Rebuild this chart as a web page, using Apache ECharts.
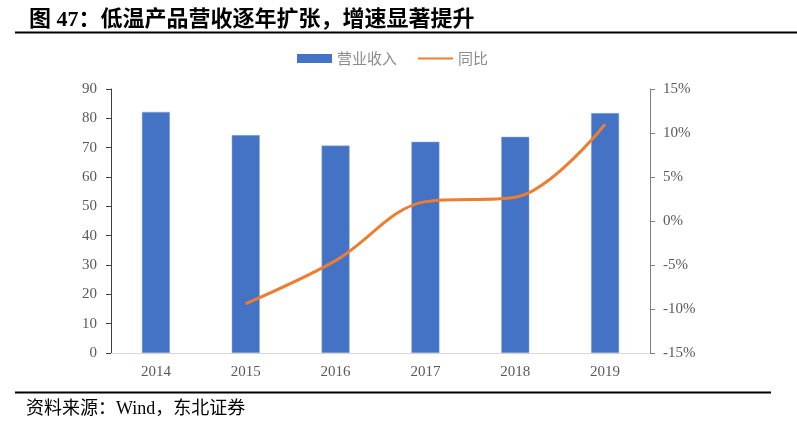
<!DOCTYPE html>
<html><head><meta charset="utf-8">
<script src="https://cdn.jsdelivr.net/npm/echarts@6/dist/echarts.min.js"></script>
<style>html,body{margin:0;padding:0;background:#fff}#c{width:797px;height:435px}</style>
</head><body><div id="c"></div>
<script>
var categories = ['2014','2015','2016','2017','2018','2019'];
var revenue = [82.2, 74.3, 70.7, 72.0, 73.7, 81.8];
var yoy = [null, -9.4, -4.5, 2.2, 2.7, 11.0];
var leftTicks = {min: 0, max: 90, interval: 10};
var rightTicks = {min: -15, max: 15, interval: 5};

var serif = '"Liberation Serif","Noto Sans CJK SC",serif';
var chart = echarts.init(document.getElementById('c'));
chart.setOption({
  animation: false,
  title: {
    text: '图 47：低温产品营收逐年扩张，增速显著提升',
    left: 24, top: 4,
    textStyle: {fontFamily: serif, fontWeight: 'bold', fontSize: 22, color: '#000'}
  },
  graphic: [
    {type: 'rect', shape: {x: 15, y: 31.5, width: 782, height: 2}, style: {fill: '#000'}},
    {type: 'rect', shape: {x: 15, y: 391.5, width: 756, height: 2}, style: {fill: '#000'}},
    {type: 'text', left: 26, top: 400, style: {text: '资料来源：Wind，东北证券', font: '18px ' + serif, fill: '#000'}}
  ],
  legend: {
    left: 292, top: 46,
    itemWidth: 35, itemHeight: 9, itemGap: 20,
    textStyle: {color: '#8c8c8c', fontSize: 15, fontFamily: '"Noto Sans CJK SC",sans-serif'},
    data: [
      {name: '营业收入', icon: 'rect', itemStyle: {borderWidth: 0}},
      {name: '同比', itemStyle: {opacity: 0}}
    ]
  },
  grid: {left: 111, right: 147, top: 89, bottom: 82},
  xAxis: {
    type: 'category', data: categories,
    axisLine: {lineStyle: {color: '#d9d9d9', width: 1}},
    axisTick: {show: false},
    axisLabel: {color: '#595959', fontSize: 15, fontFamily: serif, margin: 12}
  },
  yAxis: [
    {
      type: 'value', min: leftTicks.min, max: leftTicks.max, interval: leftTicks.interval,
      axisLine: {show: true, lineStyle: {color: '#404040'}},
      axisTick: {show: true, length: 5, lineStyle: {color: '#404040'}},
      splitLine: {show: false},
      axisLabel: {color: '#595959', fontSize: 15, fontFamily: serif, margin: 14}
    },
    {
      type: 'value', min: rightTicks.min, max: rightTicks.max, interval: rightTicks.interval,
      position: 'right',
      axisLine: {show: true, lineStyle: {color: '#7f7f7f'}},
      axisTick: {show: true, length: 5, lineStyle: {color: '#7f7f7f'}},
      splitLine: {show: false},
      axisLabel: {color: '#595959', fontSize: 15, fontFamily: serif, margin: 13, formatter: '{value}%'}
    }
  ],
  series: [
    {
      name: '营业收入', type: 'bar', data: revenue, barWidth: 28,
      itemStyle: {color: '#4472C4', borderColor: '#8eaadb', borderWidth: 0.5}
    },
    {
      name: '同比', type: 'line', yAxisIndex: 1, data: yoy, smooth: 0.35,
      symbol: 'none', connectNulls: false,
      lineStyle: {color: '#ED7D31', width: 3},
      itemStyle: {color: '#ED7D31'}
    }
  ]
});
</script></body></html>
